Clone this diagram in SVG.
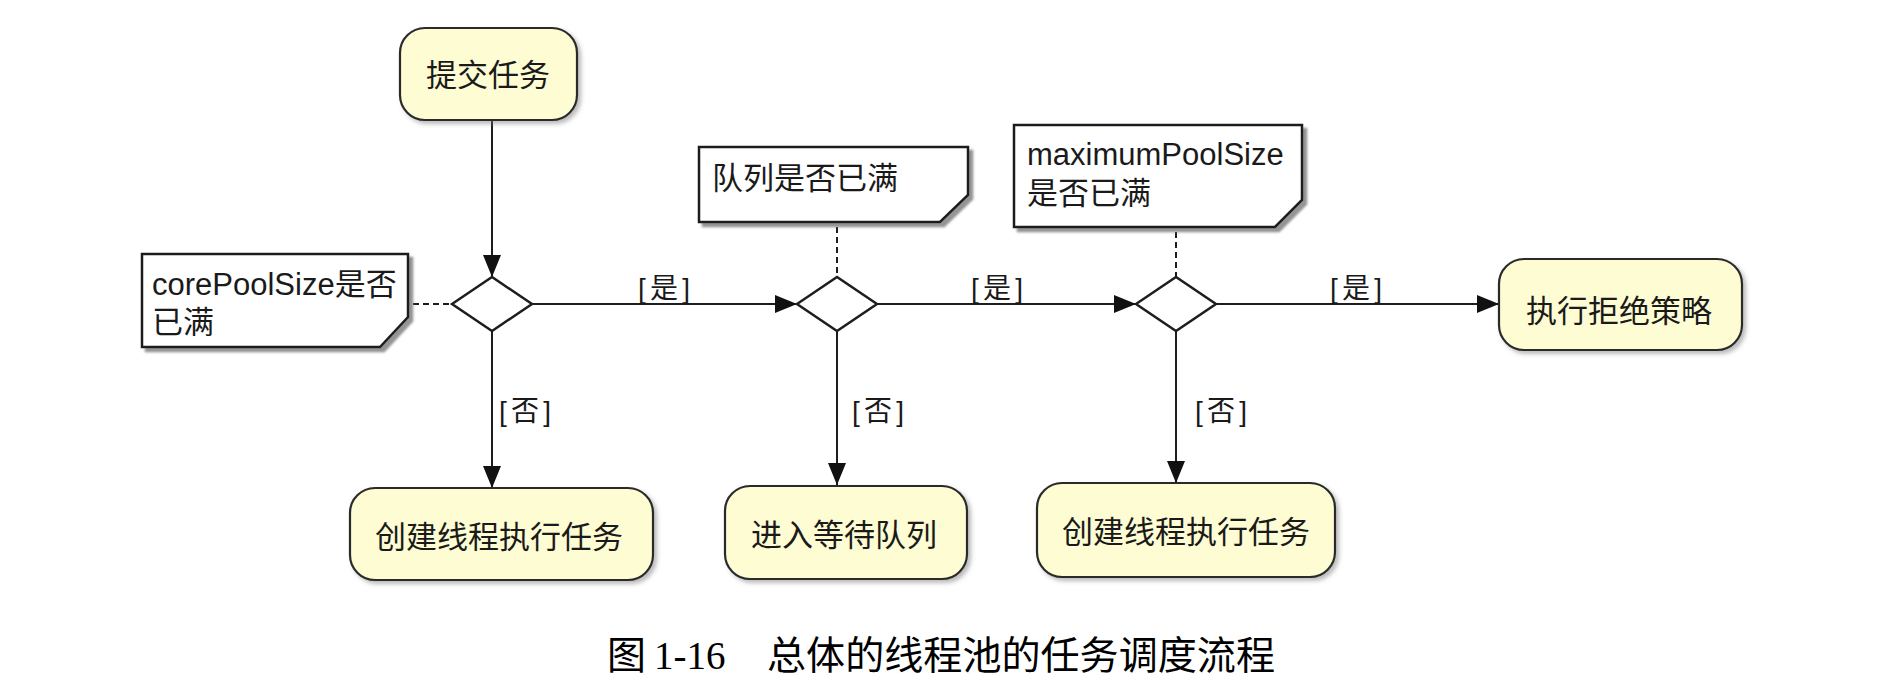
<svg xmlns="http://www.w3.org/2000/svg" width="1904" height="682" viewBox="0 0 1904 682">
  <style>
    .action { fill: #FDFCD3; stroke: #2a2a2a; stroke-width: 2.2; filter: url(#soft); }
    .note { fill: #ffffff; stroke: #1e1e1e; stroke-width: 2.5; filter: url(#hard); }
    .branch { fill: #ffffff; stroke: #1e1e1e; stroke-width: 2.5; }
    .txt { font-family: "Liberation Sans", "Noto Sans CJK SC", sans-serif; font-size: 31px; fill: #1a1a1a; }
    .mid { text-anchor: middle; }
    .guard { font-family: "Liberation Sans", "Noto Sans CJK SC", sans-serif; font-size: 28px; fill: #1a1a1a; }
    .flow { fill: none; stroke: #1e1e1e; stroke-width: 2; }
    .link { fill: none; stroke: #1e1e1e; stroke-width: 2; stroke-dasharray: 6 4; }
    .cap { font-family: "Liberation Serif", "Noto Sans CJK SC", serif; font-size: 39px; fill: #000; }
  </style>
  <defs>
    <filter id="soft" x="-10%" y="-10%" width="130%" height="140%">
      <feDropShadow dx="3" dy="3" stdDeviation="2" flood-color="#777" flood-opacity="0.5"/>
    </filter>
    <filter id="hard" x="-10%" y="-10%" width="130%" height="140%">
      <feDropShadow dx="4" dy="4" stdDeviation="1" flood-color="#666" flood-opacity="0.7"/>
    </filter>
    <marker id="arrow" markerUnits="userSpaceOnUse" markerWidth="24" markerHeight="20" refX="22" refY="9" orient="auto">
      <path d="M0,0 L22,9 L0,18 Z" fill="#111"/>
    </marker>
  </defs>

  <rect width="1904" height="682" fill="#ffffff"/>

  <!-- connectors -->
  <g id="connectors">
    <path class="flow" d="M492,120 V277" marker-end="url(#arrow)"/>
    <path class="flow" d="M532,304 H797" marker-end="url(#arrow)"/>
    <path class="flow" d="M877,304 H1136" marker-end="url(#arrow)"/>
    <path class="flow" d="M1216,304 H1499" marker-end="url(#arrow)"/>
    <path class="flow" d="M492,331 V488" marker-end="url(#arrow)"/>
    <path class="flow" d="M837,331 V485" marker-end="url(#arrow)"/>
    <path class="flow" d="M1176,331 V483" marker-end="url(#arrow)"/>
    <path class="link" d="M413,304 H452"/>
    <path class="link" d="M837,227 V277"/>
    <path class="link" d="M1176,232 V277"/>
    <text class="guard" x="638" y="298" textLength="52" lengthAdjust="spacing">[是]</text>
    <text class="guard" x="971" y="298" textLength="52" lengthAdjust="spacing">[是]</text>
    <text class="guard" x="1330" y="298" textLength="52" lengthAdjust="spacing">[是]</text>
    <text class="guard" x="499" y="421" textLength="52" lengthAdjust="spacing">[否]</text>
    <text class="guard" x="852" y="421" textLength="52" lengthAdjust="spacing">[否]</text>
    <text class="guard" x="1195" y="421" textLength="52" lengthAdjust="spacing">[否]</text>
  </g>

  <g id="submit">
    <rect class="action" x="400" y="28" width="177" height="92" rx="25"/>
    <text class="txt mid" x="488" y="86">提交任务</text>
  </g>

  <g id="note-core">
    <path class="note" d="M142,254 H408 V317 L380,347 H142 Z"/>
    <text class="txt" x="152" y="295">corePoolSize是否</text>
    <text class="txt" x="152" y="333">已满</text>
  </g>

  <g id="note-queue">
    <path class="note" d="M699,147 H968 V195 L940,222 H699 Z"/>
    <text class="txt" x="712" y="189">队列是否已满</text>
  </g>

  <g id="note-max">
    <path class="note" d="M1014,125 H1302 V200 L1275,227 H1014 Z"/>
    <text class="txt" x="1027" y="165">maximumPoolSize</text>
    <text class="txt" x="1027" y="204">是否已满</text>
  </g>

  <g id="check-core">
    <path class="branch" d="M452,304 L492,277 L532,304 L492,331 Z"/>
  </g>
  <g id="check-queue">
    <path class="branch" d="M797,304 L837,277 L877,304 L837,331 Z"/>
  </g>
  <g id="check-max">
    <path class="branch" d="M1136,304 L1176,277 L1216,304 L1176,331 Z"/>
  </g>

  <g id="reject">
    <rect class="action" x="1499" y="259" width="243" height="91" rx="25"/>
    <text class="txt mid" x="1619" y="322">执行拒绝策略</text>
  </g>

  <g id="create-core">
    <rect class="action" x="350" y="488" width="303" height="92" rx="25"/>
    <text class="txt mid" x="499" y="548">创建线程执行任务</text>
  </g>

  <g id="enqueue">
    <rect class="action" x="725" y="486" width="242" height="93" rx="25"/>
    <text class="txt mid" x="844" y="546">进入等待队列</text>
  </g>

  <g id="create-max">
    <rect class="action" x="1037" y="483" width="298" height="94" rx="25"/>
    <text class="txt mid" x="1186" y="543">创建线程执行任务</text>
  </g>

  <!-- figure caption -->
  <g id="caption">
    <text class="cap" x="607" y="669">图</text>
    <text class="cap" x="654" y="669" font-size="40">1-16</text>
    <text class="cap" x="767" y="669" textLength="508" lengthAdjust="spacingAndGlyphs">总体的线程池的任务调度流程</text>
  </g>
</svg>
